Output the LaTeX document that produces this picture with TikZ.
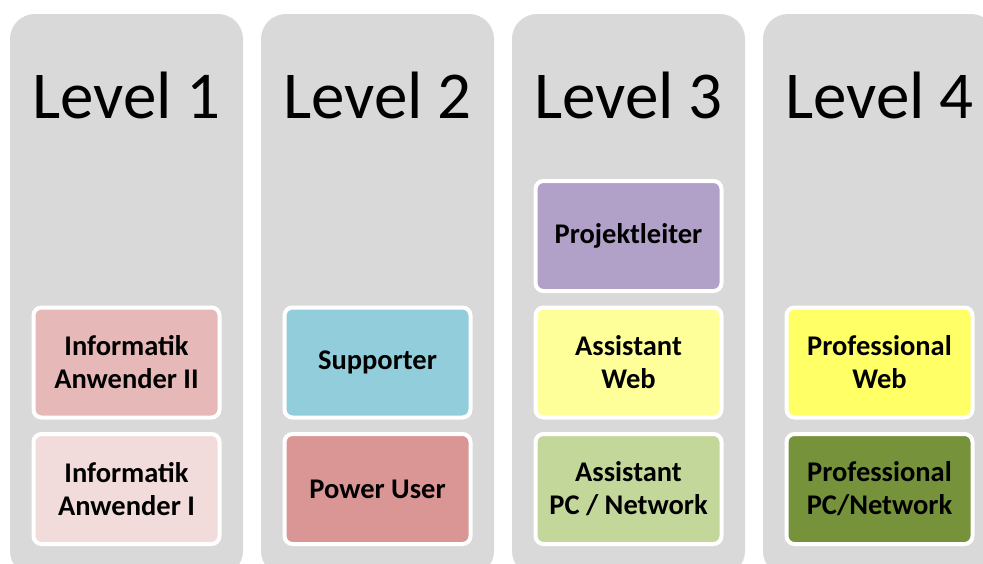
\documentclass[tikz,border=0pt]{standalone}
\usepackage{fontspec}
\setmainfont{Carlito}
\definecolor{colgray}{HTML}{D9D9D9}
\definecolor{cAnwII}{HTML}{E6B8B7}
\definecolor{cAnwI}{HTML}{F2DCDB}
\definecolor{cSupp}{HTML}{92CDDC}
\definecolor{cPower}{HTML}{DA9694}
\definecolor{cProj}{HTML}{B1A0C7}
\definecolor{cAWeb}{HTML}{FFFF99}
\definecolor{cAPC}{HTML}{C4D79B}
\definecolor{cPWeb}{HTML}{FFFF66}
\definecolor{cPPC}{HTML}{76933C}
\tikzset{
  column/.style={fill=colgray, rounded corners=25pt},
  title/.style={font=\fontsize{67}{70}\selectfont, anchor=base, inner sep=0pt},
  levelbox/.style={draw=white, line width=4pt, rounded corners=8pt,
    minimum width=186pt, minimum height=110pt, inner sep=0pt, align=center,
    font=\fontsize{28.5}{33}\selectfont\bfseries}
}
\begin{document}
\begin{tikzpicture}[x=1pt,y=-1pt]
\useasboundingbox (0,0) rectangle (983,563);
\clip (0,0) rectangle (983,563);
\fill[white] (0,0) rectangle (983,563);
% columns
\foreach \cx in {126.5,377.5,628.5,879.5}{
  \path[column] (\cx-116.5,14) rectangle (\cx+116.5,576);
}
% titles
\node[title] (t1) at (126.5,118) {Level 1};
\node[title] (t2) at (377.5,118) {Level 2};
\node[title] (t3) at (628.5,118) {Level 3};
\node[title] (t4) at (879.5,118) {Level 4};
% boxes
\node[levelbox, fill=cAnwII] (anw2) at (126.5,362.5) {Informatik\\Anwender II};
\node[levelbox, fill=cAnwI] (anw1) at (126.5,489) {Informatik\\Anwender I};
\node[levelbox, fill=cSupp] (supp) at (377.5,362.5) {Supporter};
\node[levelbox, fill=cPower] (power) at (377.5,489) {Power User};
\node[levelbox, fill=cProj] (proj) at (628.5,236) {Projektleiter};
\node[levelbox, fill=cAWeb] (aweb) at (628.5,362.5) {Assistant\\Web};
\node[levelbox, fill=cAPC] (apc) at (628.5,489) {Assistant\\PC / Network};
\node[levelbox, fill=cPWeb] (pweb) at (879.5,362.5) {Professional\\Web};
\node[levelbox, fill=cPPC] (ppc) at (879.5,489) {Professional\\PC/Network};
\end{tikzpicture}
\end{document}
